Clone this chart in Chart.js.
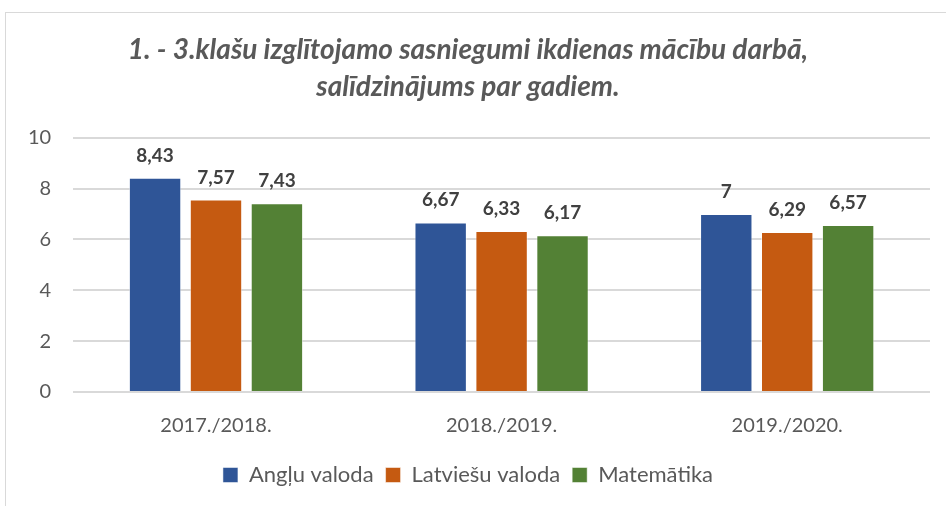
<!DOCTYPE html>
<html>
<head>
<meta charset="utf-8">
<script src="https://cdn.jsdelivr.net/npm/chart.js@4.4.0/dist/chart.umd.min.js"></script>
<style>
  html, body { margin: 0; padding: 0; background: #fff; }
  #wrap { position: relative; width: 946px; height: 506px; overflow: hidden; }
  #frame { position: absolute; left: 5px; top: 12px; width: 960px; height: 520px; border: 1px solid #d9d9d9; }
  canvas { position: absolute; left: 0; top: 0; }
</style>
</head>
<body>
<div id="wrap">
  <div id="frame"></div>
  <canvas id="chart" width="946" height="506"></canvas>
</div>
<script>
const years = ["2017./2018.", "2018./2019.", "2019./2020."];
const seriesNames = ["Angļu valoda", "Latviešu valoda", "Matemātika"];
const angluValues = [8.43, 6.67, 7];
const latviesuValues = [7.57, 6.33, 6.29];
const matematikaValues = [7.43, 6.17, 6.57];
const yTicks = [0, 2, 4, 6, 8, 10];
const colors = ["#2F5597", "#C55A11", "#538135"];

const fontFamily = "Lato, 'Open Sans', sans-serif";

// Draws value labels above the bars
const valueLabels = {
    id: "valueLabels",
    afterDatasetsDraw(chart) {
        const ctx = chart.ctx;
        ctx.save();
        ctx.font = "bold 19px " + fontFamily;
        ctx.fillStyle = "#404040";
        ctx.textAlign = "center";
        ctx.textBaseline = "alphabetic";
        chart.data.datasets.forEach((ds, i) => {
            chart.getDatasetMeta(i).data.forEach((bar, j) => {
                const label = String(ds.data[j]).replace(".", ",");
                ctx.fillText(label, bar.x, bar.y - 16);
            });
        });
        ctx.restore();
    }
};

new Chart(document.getElementById("chart"), {
    type: "bar",
    data: {
        labels: years,
        datasets: [
            { label: seriesNames[0], data: angluValues, backgroundColor: colors[0] },
            { label: seriesNames[1], data: latviesuValues, backgroundColor: colors[1] },
            { label: seriesNames[2], data: matematikaValues, backgroundColor: colors[2] }
        ]
    },
    options: {
        responsive: false,
        animation: false,
        layout: { padding: { left: 6, right: 16, top: 22, bottom: 10 } },
        datasets: {
            bar: {
                categoryPercentage: 0.64,
                barPercentage: 0.86,
                borderColor: "rgba(255,255,255,0.5)",
                borderWidth: 1
            }
        },
        plugins: {
            title: {
                display: true,
                text: ["1. - 3.klašu izglītojamo sasniegumi ikdienas mācību darbā,", "salīdzinājums par gadiem."],
                color: "#595959",
                font: { family: fontFamily, size: 28, weight: "bold", style: "italic", lineHeight: 1.3 },
                padding: { top: 10, bottom: 33 }
            },
            legend: {
                position: "bottom",
                labels: {
                    color: "#595959",
                    font: { family: fontFamily, size: 22 },
                    boxWidth: 15,
                    boxHeight: 15,
                    padding: 12
                }
            },
            tooltip: { enabled: false }
        },
        scales: {
            x: {
                grid: { display: false },
                border: { display: false },
                ticks: { color: "#595959", font: { family: fontFamily, size: 20 }, padding: 14 }
            },
            y: {
                min: 0,
                max: 10,
                afterBuildTicks(axis) { axis.ticks = yTicks.map(v => ({ value: v })); },
                grid: { color: "#d9d9d9", lineWidth: 2, drawTicks: false },
                border: { display: false },
                ticks: { color: "#595959", font: { family: fontFamily, size: 20 }, padding: 22 }
            }
        }
    },
    plugins: [valueLabels]
});
</script>
</body>
</html>
